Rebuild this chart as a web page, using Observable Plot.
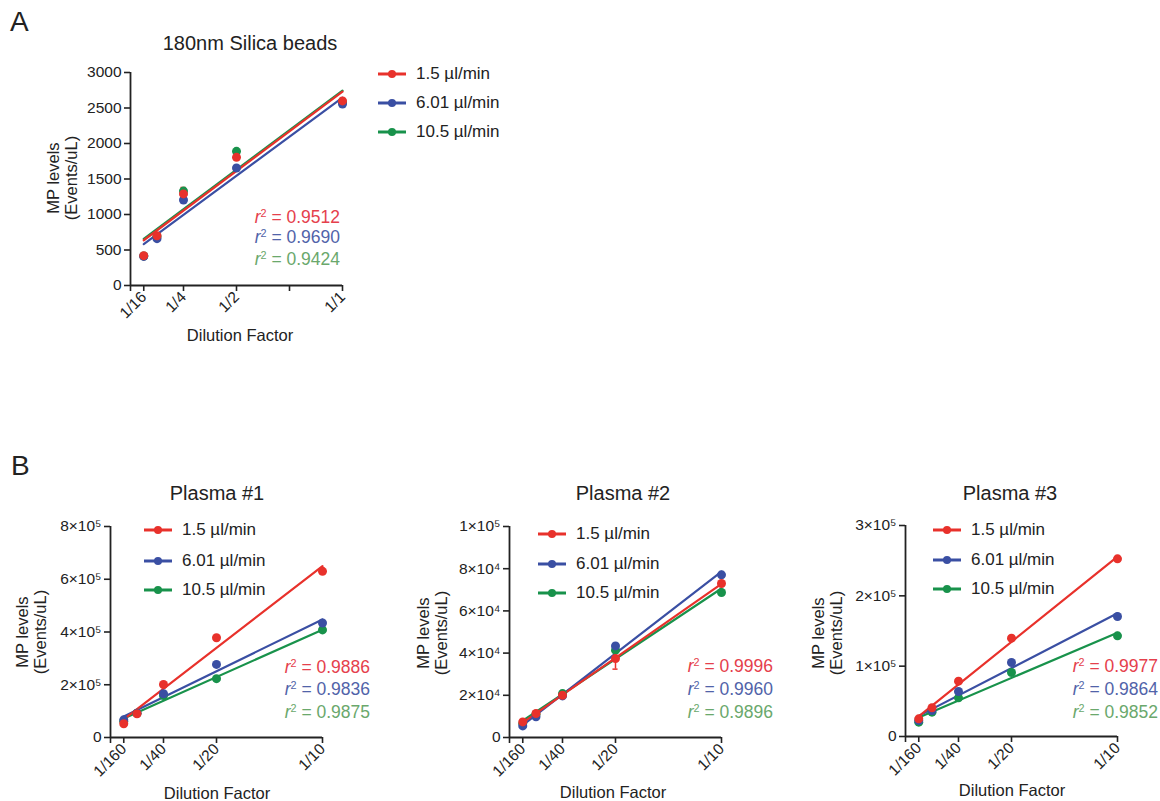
<!DOCTYPE html>
<html><head><meta charset="utf-8">
<script src="https://cdn.jsdelivr.net/npm/d3@7"></script>
<script src="https://cdn.jsdelivr.net/npm/@observablehq/plot@0.6"></script>
<style>
body{margin:0;background:#fff;}
#root{position:relative;width:1160px;height:801px;overflow:hidden;font-family:Arial,"Liberation Sans",sans-serif;color:#222;background:#fff;}
.abs{position:absolute;white-space:nowrap;line-height:1;}
.c{transform:translate(-50%,-50%);}
.r{transform:translate(-100%,-50%);}
.l{transform:translate(0,-50%);}
.ylab{transform:translate(-50%,-50%) rotate(-90deg);text-align:center;line-height:18px;font-size:16.5px;}
.plotsvg{position:absolute;overflow:visible;}
.r2 sup{font-size:0.62em;vertical-align:0.55em;line-height:0;}
</style></head><body><div id="root"></div><script>
// ---------- data ----------
const seriesNames = ["1.5 µl/min", "6.01 µl/min", "10.5 µl/min"];
const seriesColors = ["#e8312b", "#3a4fa3", "#18924b"];
const r2Colors = ["#e5404c", "#5163a9", "#6aa86c"];

const dilutionA = [1/16, 1/8, 1/4, 1/2, 1];
const dilutionB = [1/160, 1/80, 1/40, 1/20, 1/10];

const silicaRed   = [420, 700, 1290, 1805, 2600];
const silicaBlue  = [410, 660, 1205, 1655, 2555];
const silicaGreen = [415, 690, 1330, 1890, 2580];
const silicaRedErr = [0, 0, 90, 0, 0];
const r2Silica = ["0.9512", "0.9690", "0.9424"];

const plasma1Red   = [52000, 90000, 201000, 378000, 630000];
const plasma1Blue  = [67000, 92000, 166000, 277000, 434000];
const plasma1Green = [62000, 92000, 159000, 223000, 408000];
const r2Plasma1 = ["0.9886", "0.9836", "0.9875"];

const plasma2Red   = [7400, 11400, 20000, 37400, 73000];
const plasma2Blue  = [5500, 9800, 19700, 43400, 77100];
const plasma2Green = [6600, 11000, 20800, 41400, 68700];
const plasma2RedErr = [0, 0, 0, 5000, 0];
const r2Plasma2 = ["0.9996", "0.9960", "0.9896"];

const plasma3Red   = [25100, 40800, 78700, 139800, 252600];
const plasma3Blue  = [22700, 37000, 64000, 105200, 170600];
const plasma3Green = [20400, 34600, 55000, 91000, 143100];
const r2Plasma3 = ["0.9977", "0.9864", "0.9852"];

const xTicksA = [0, 1/16, 1/4, 1/2, 3/4, 1];
const xTickLabelsA = ["", "1/16", "1/4", "1/2", "", "1/1"];
const xTicksB = [0, 1/160, 1/40, 1/20, 1/10];
const xTickLabelsB = ["", "1/160", "1/40", "1/20", "1/10"];

const yTicksA = [0, 500, 1000, 1500, 2000, 2500, 3000];
const yTickLabelsA = ["0", "500", "1000", "1500", "2000", "2500", "3000"];
const yTicksP1 = [0, 200000, 400000, 600000, 800000];
const yTickLabelsP1 = ["0", "2×10⁵", "4×10⁵", "6×10⁵", "8×10⁵"];
const yTicksP2 = [0, 20000, 40000, 60000, 80000, 100000];
const yTickLabelsP2 = ["0", "2×10⁴", "4×10⁴", "6×10⁴", "8×10⁴", "1×10⁵"];
const yTicksP3 = [0, 100000, 200000, 300000];
const yTickLabelsP3 = ["0", "1×10⁵", "2×10⁵", "3×10⁵"];

const titles = ["180nm Silica beads", "Plasma #1", "Plasma #2", "Plasma #3"];
const panelLetters = ["A", "B"];
const xTitle = "Dilution Factor";
const yTitle = ["MP levels", "(Events/uL)"];

// ---------- layout ----------
const panels = [
  {title: titles[0], x: dilutionA, ys: [silicaRed, silicaBlue, silicaGreen], errs: [silicaRedErr, null, null], r2: r2Silica,
   xTicks: xTicksA, xTickLabels: xTickLabelsA, yTicks: yTicksA, yTickLabels: yTickLabelsA, xMax: 1, yMax: 3000,
   L: {fl: 130, ft: 72, fw: 212, fh: 213, titleX: 250, titleY: 43, legX: 378, legY: [73, 102, 131],
       r2X: 340, r2Y: [218, 238, 260], ylabX: 62, ylabY: 178, xlabX: 240, xlabY: 335}},
  {title: titles[1], x: dilutionB, ys: [plasma1Red, plasma1Blue, plasma1Green], errs: [null, null, null], r2: r2Plasma1,
   xTicks: xTicksB, xTickLabels: xTickLabelsB, yTicks: yTicksP1, yTickLabels: yTickLabelsP1, xMax: 0.1, yMax: 800000,
   L: {fl: 110, ft: 526, fw: 212, fh: 211, titleX: 217, titleY: 493, legX: 144, legY: [529, 560, 589],
       r2X: 370, r2Y: [668, 690, 713], ylabX: 31, ylabY: 632, xlabX: 217, xlabY: 793}},
  {title: titles[2], x: dilutionB, ys: [plasma2Red, plasma2Blue, plasma2Green], errs: [plasma2RedErr, null, null], r2: r2Plasma2,
   xTicks: xTicksB, xTickLabels: xTickLabelsB, yTicks: yTicksP2, yTickLabels: yTickLabelsP2, xMax: 0.1, yMax: 100000,
   L: {fl: 509, ft: 526, fw: 212, fh: 211, titleX: 623, titleY: 493, legX: 538, legY: [533, 563, 592],
       r2X: 773, r2Y: [667, 690, 713], ylabX: 432, ylabY: 633, xlabX: 613, xlabY: 792}},
  {title: titles[3], x: dilutionB, ys: [plasma3Red, plasma3Blue, plasma3Green], errs: [null, null, null], r2: r2Plasma3,
   xTicks: xTicksB, xTickLabels: xTickLabelsB, yTicks: yTicksP3, yTickLabels: yTickLabelsP3, xMax: 0.1, yMax: 300000,
   L: {fl: 905, ft: 525, fw: 212, fh: 211, titleX: 1010, titleY: 493, legX: 933, legY: [529, 559, 588],
       r2X: 1158, r2Y: [667, 690, 713], ylabX: 827, ylabY: 633, xlabX: 1012, xlabY: 790}}
];

const root = document.getElementById("root");
const FONT = 'Arial, "Liberation Sans", sans-serif';

function addDiv(html, x, y, cls, style) {
  const d = document.createElement("div");
  d.className = "abs " + cls;
  d.style.left = x + "px";
  d.style.top = y + "px";
  d.innerHTML = html;
  if (style) Object.assign(d.style, style);
  root.appendChild(d);
  return d;
}

function drawPanel(p) {
  const L = p.L;
  const rows = [];
  const errRows = [];
  for (let s = p.ys.length - 1; s >= 0; s--) {
    p.ys[s].forEach((v, i) => {
      rows.push({series: seriesNames[s], dil: p.x[i], value: v});
      if (p.errs[s] && p.errs[s][i] > 0) errRows.push({series: seriesNames[s], dil: p.x[i], lo: v - p.errs[s][i], hi: v + p.errs[s][i]});
    });
  }
  const capW = p.xMax * 0.012;
  const ML = 120, MR = 30, MT = 20, MB = 90;
  const chart = Plot.plot({
    width: L.fw + ML + MR, height: L.fh + MT + MB,
    marginLeft: ML, marginRight: MR, marginTop: MT, marginBottom: MB,
    x: {domain: [0, p.xMax]},
    y: {domain: [0, p.yMax]},
    color: {domain: seriesNames, range: seriesColors},
    style: {fontFamily: FONT, fontSize: "15.5px", color: "#222", background: "transparent", overflow: "visible"},
    marks: [
      Plot.axisY({ticks: p.yTicks, tickFormat: d => p.yTickLabels[p.yTicks.indexOf(d)], tickSize: 6, tickPadding: 3,
                  label: null, stroke: "#222", strokeWidth: 1.6, fontSize: 15.5, fill: "#222"}),
      Plot.axisX({ticks: p.xTicks, tickFormat: d => p.xTickLabels[p.xTicks.indexOf(d)], tickSize: 6, tickPadding: 3,
                  tickRotate: -45, label: null, stroke: "#222", strokeWidth: 1.6, fontSize: 15.5, fill: "#222"}),
      Plot.ruleX([0], {stroke: "#222", strokeWidth: 1.8}),
      Plot.ruleY([0], {stroke: "#222", strokeWidth: 1.8}),
      Plot.linearRegressionY(rows, {x: "dil", y: "value", stroke: "series", ci: 0, strokeWidth: 2.2}),
      Plot.ruleX(errRows, {x: "dil", y1: "lo", y2: "hi", stroke: "series", strokeWidth: 1.5}),
      Plot.ruleY(errRows, {y: "lo", x1: d => d.dil - capW, x2: d => d.dil + capW, stroke: "series", strokeWidth: 1.5}),
      Plot.ruleY(errRows, {y: "hi", x1: d => d.dil - capW, x2: d => d.dil + capW, stroke: "series", strokeWidth: 1.5}),
      Plot.dot(rows, {x: "dil", y: "value", fill: "series", r: 4.5})
    ]
  });
  chart.classList.add("plotsvg");
  chart.style.left = (L.fl - ML) + "px";
  chart.style.top = (L.ft - MT) + "px";
  root.appendChild(chart);

  addDiv(p.title, L.titleX, L.titleY, "c", {fontSize: "20px"});
  addDiv(xTitle, L.xlabX, L.xlabY, "c", {fontSize: "16.5px"});
  addDiv(yTitle.join("<br>"), L.ylabX, L.ylabY, "ylab");

  seriesNames.forEach((name, s) => {
    const sw = `<svg width="30" height="10" style="vertical-align:middle;margin-right:8px;overflow:visible"><line x1="0" y1="5" x2="28" y2="5" stroke="${seriesColors[s]}" stroke-width="3"/><circle cx="14" cy="5" r="4" fill="${seriesColors[s]}"/></svg>`;
    addDiv(sw + `<span style="vertical-align:middle">${name}</span>`, L.legX, L.legY[s], "l", {fontSize: "17px"});
    addDiv(`<i>r</i><sup>2</sup> = ${p.r2[s]}`, L.r2X, L.r2Y[s], "r r2", {fontSize: "17.5px", color: r2Colors[s]});
  });
}

panels.forEach(drawPanel);
addDiv(panelLetters[0], 10, 22, "l", {fontSize: "28px"});
addDiv(panelLetters[1], 11, 466, "l", {fontSize: "28px"});
</script></body></html>
